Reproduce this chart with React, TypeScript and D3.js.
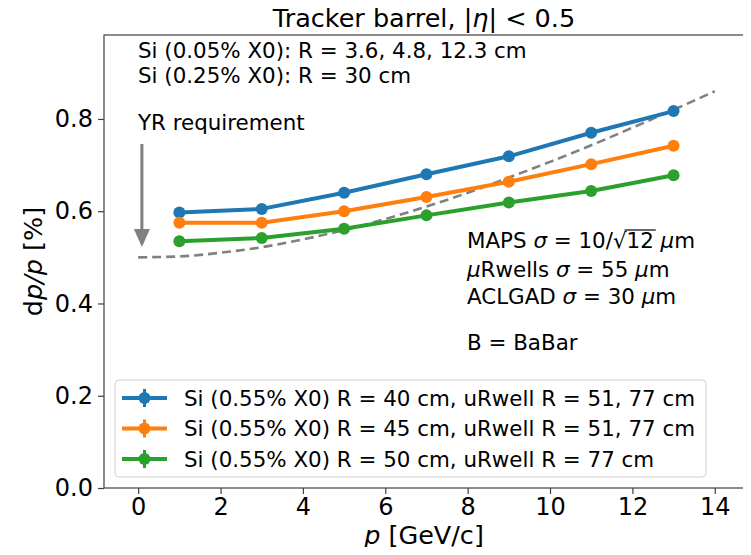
import React, { useEffect, useRef } from "react";
import * as d3 from "d3";

const momentum = [1, 3, 5, 7, 9, 11, 13];
const siR40 = [0.597, 0.605, 0.64, 0.68, 0.719, 0.77, 0.817];
const siR45 = [0.575, 0.575, 0.6, 0.631, 0.664, 0.702, 0.742];
const siR50 = [0.535, 0.542, 0.562, 0.591, 0.619, 0.644, 0.678];
const yrP = [0, 1, 2, 3, 4, 5, 6, 7, 8, 9, 10, 11, 12, 13, 14];
const yrReq = [0.5, 0.502, 0.51, 0.522, 0.539, 0.559, 0.583, 0.61, 0.64, 0.673, 0.707, 0.743, 0.781, 0.82, 0.86];
const seriesLabels = [
  "Si (0.55% X0) R = 40 cm, uRwell R = 51, 77 cm",
  "Si (0.55% X0) R = 45 cm, uRwell R = 51, 77 cm",
  "Si (0.55% X0) R = 50 cm, uRwell R = 77 cm",
];
const seriesColors = ["#1f77b4", "#ff7f0e", "#2ca02c"];
const xTicks = [0, 2, 4, 6, 8, 10, 12, 14];
const yTicks = [0, 0.2, 0.4, 0.6, 0.8];

const W = 751;
const H = 555;
const FONT = "DejaVu Sans, sans-serif";
const TXT = 21.4;

export default function App() {
  const ref = useRef<SVGSVGElement | null>(null);

  useEffect(() => {
    const svg = d3.select(ref.current);
    svg.selectAll("*").remove();
    const left = 104, right = 744, top = 35, bottom = 488;
    const x = d3.scaleLinear().domain([-0.83, 14.71]).range([left, right]);
    const y = d3.scaleLinear().domain([0, 0.982]).range([bottom, top]);

    svg.append("rect").attr("width", W).attr("height", H).attr("fill", "#fff");

    // YR requirement dashed curve
    const yrLine = d3.line<number>().x((d, i) => x(yrP[i])).y((d) => y(d)).curve(d3.curveMonotoneX);
    svg.append("path").attr("d", yrLine(yrReq) as string).attr("fill", "none")
      .attr("stroke", "#808080").attr("stroke-width", 2.6).attr("stroke-dasharray", "9,5");

    // series
    const allSeries = [siR40, siR45, siR50];
    const line = d3.line<number>().x((d, i) => x(momentum[i])).y((d) => y(d));
    allSeries.forEach((s, k) => {
      svg.append("path").attr("d", line(s) as string).attr("fill", "none")
        .attr("stroke", seriesColors[k]).attr("stroke-width", 4).attr("stroke-linejoin", "round");
      svg.selectAll(null).data(s).enter().append("circle")
        .attr("cx", (d, i) => x(momentum[i])).attr("cy", (d) => y(d)).attr("r", 6)
        .attr("fill", seriesColors[k]);
    });

    // frame
    svg.append("rect").attr("x", left).attr("y", top).attr("width", right - left).attr("height", bottom - top)
      .attr("fill", "none").attr("stroke", "#404040").attr("stroke-width", 1.2);

    // axes
    const xAxis = svg.append("g").attr("transform", `translate(0,${bottom})`)
      .call(d3.axisBottom(x).tickValues(xTicks).tickSize(6).tickPadding(4).tickFormat(d3.format("d")));
    xAxis.select(".domain").remove();
    xAxis.selectAll("line").attr("stroke", "#404040").attr("stroke-width", 1.2);
    xAxis.selectAll("text").attr("font-family", FONT).attr("font-size", 24).attr("fill", "#000");

    const yAxis = svg.append("g").attr("transform", `translate(${left},0)`)
      .call(d3.axisLeft(y).tickValues(yTicks).tickSize(6).tickPadding(5).tickFormat(d3.format(".1f")));
    yAxis.select(".domain").remove();
    yAxis.selectAll("line").attr("stroke", "#404040").attr("stroke-width", 1.2);
    yAxis.selectAll("text").attr("font-family", FONT).attr("font-size", 24).attr("fill", "#000");

    // title
    const title = svg.append("text").attr("x", (left + right) / 2).attr("y", 27).attr("text-anchor", "middle")
      .attr("font-family", FONT).attr("font-size", 25.5);
    title.append("tspan").text("Tracker barrel, |");
    title.append("tspan").attr("font-style", "italic").text("η");
    title.append("tspan").text("| < 0.5");

    // axis labels
    const xl = svg.append("text").attr("x", (left + right) / 2).attr("y", 544).attr("text-anchor", "middle")
      .attr("font-family", FONT).attr("font-size", 25.5);
    xl.append("tspan").attr("font-style", "italic").text("p");
    xl.append("tspan").text(" [GeV/c]");

    const yl = svg.append("text").attr("transform", `translate(42,${(top + bottom) / 2}) rotate(-90)`)
      .attr("text-anchor", "middle").attr("font-family", FONT).attr("font-size", 25.5);
    yl.append("tspan").text("d");
    yl.append("tspan").attr("font-style", "italic").text("p/p");
    yl.append("tspan").text(" [%]");

    // top-left annotations
    const ann = [["Si (0.05% X0): R = 3.6, 4.8, 12.3 cm", 58], ["Si (0.25% X0): R = 30 cm", 83], ["YR requirement", 130]];
    ann.forEach(([t, yy]) => {
      svg.append("text").attr("x", 138).attr("y", yy as number).attr("font-family", FONT)
        .attr("font-size", TXT).text(t as string);
    });

    // arrow
    const ax = x(0.09);
    svg.append("line").attr("x1", ax).attr("x2", ax).attr("y1", 144).attr("y2", 232)
      .attr("stroke", "#808080").attr("stroke-width", 3);
    svg.append("path").attr("d", `M${ax - 8},229 L${ax + 8},229 L${ax},247 Z`).attr("fill", "#808080");

    // right annotations
    const rx = 467;
    const t1 = svg.append("text").attr("x", rx).attr("y", 248).attr("font-family", FONT).attr("font-size", TXT);
    t1.append("tspan").text("MAPS ");
    t1.append("tspan").attr("font-style", "italic").text("σ");
    t1.append("tspan").text(" = 10/√");
    t1.append("tspan").text("12");
    t1.append("tspan").text(" ");
    t1.append("tspan").attr("font-style", "italic").text("μ");
    t1.append("tspan").text("m");
    const node = t1.node() as SVGTextElement;
    try {
      const full = "MAPS σ = 10/√";
      const start = node.getSubStringLength(0, full.length);
      const len = node.getSubStringLength(full.length, 2);
      svg.append("line").attr("x1", rx + start - 2).attr("x2", rx + start + len + 2)
        .attr("y1", 230).attr("y2", 230).attr("stroke", "#000").attr("stroke-width", 1.2);
    } catch (e) { /* ignore */ }

    const t2 = svg.append("text").attr("x", rx).attr("y", 277).attr("font-family", FONT).attr("font-size", TXT);
    t2.append("tspan").attr("font-style", "italic").text("μ");
    t2.append("tspan").text("Rwells ");
    t2.append("tspan").attr("font-style", "italic").text("σ");
    t2.append("tspan").text(" = 55 ");
    t2.append("tspan").attr("font-style", "italic").text("μ");
    t2.append("tspan").text("m");

    const t3 = svg.append("text").attr("x", rx).attr("y", 304).attr("font-family", FONT).attr("font-size", TXT);
    t3.append("tspan").text("ACLGAD ");
    t3.append("tspan").attr("font-style", "italic").text("σ");
    t3.append("tspan").text(" = 30 ");
    t3.append("tspan").attr("font-style", "italic").text("μ");
    t3.append("tspan").text("m");

    svg.append("text").attr("x", rx).attr("y", 350).attr("font-family", FONT).attr("font-size", TXT).text("B = BaBar");

    // legend
    const lg = svg.append("g");
    lg.append("rect").attr("x", 115).attr("y", 380).attr("width", 591).attr("height", 97).attr("rx", 4)
      .attr("fill", "#fff").attr("fill-opacity", 0.8).attr("stroke", "#d0d0d0").attr("stroke-width", 1);
    const rows = [398, 428.5, 459];
    seriesLabels.forEach((lab, k) => {
      const cy = rows[k];
      lg.append("line").attr("x1", 122).attr("x2", 167).attr("y1", cy).attr("y2", cy)
        .attr("stroke", seriesColors[k]).attr("stroke-width", 4);
      lg.append("line").attr("x1", 144.5).attr("x2", 144.5).attr("y1", cy - 9).attr("y2", cy + 9)
        .attr("stroke", seriesColors[k]).attr("stroke-width", 3);
      lg.append("circle").attr("cx", 144.5).attr("cy", cy).attr("r", 6).attr("fill", seriesColors[k]);
      lg.append("text").attr("x", 184).attr("y", cy + 7.5).attr("font-family", FONT).attr("font-size", TXT).text(lab);
    });
  }, []);

  return <svg ref={ref} width={W} height={H} style={{ display: "block", margin: "-8px" }} />;
}
